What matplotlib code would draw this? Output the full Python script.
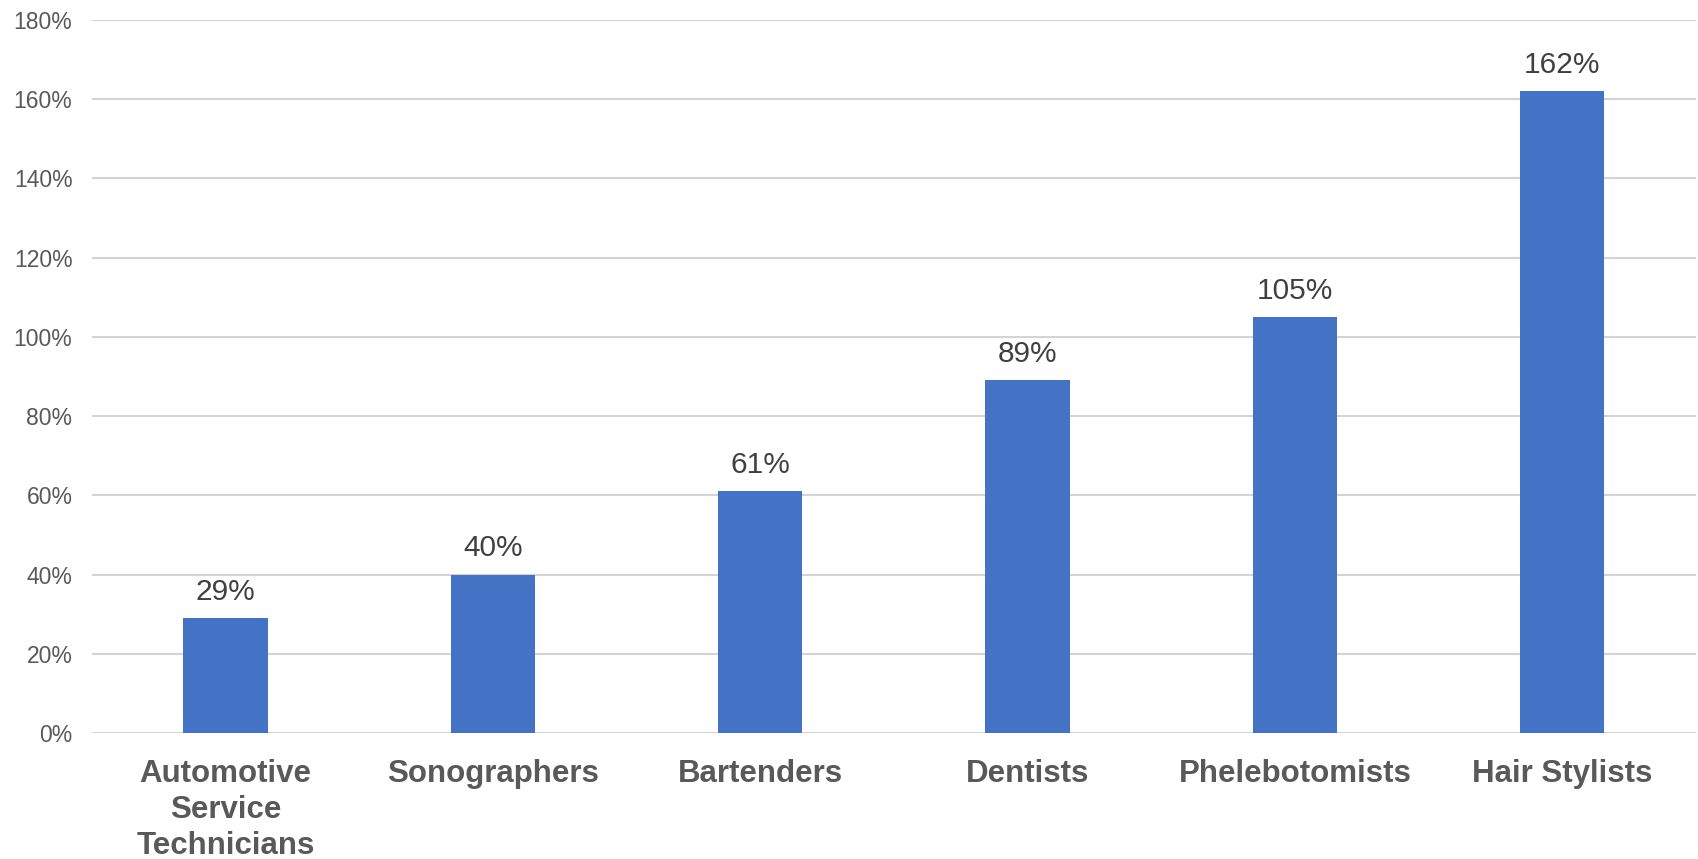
import matplotlib
matplotlib.use("Agg")
from matplotlib import pyplot as plt
from matplotlib.ticker import FuncFormatter
import numpy as np

# data
categories = ["Automotive\nService\nTechnicians", "Sonographers", "Bartenders",
              "Dentists", "Phelebotomists", "Hair Stylists"]
values = [29, 40, 61, 89, 105, 162]
yticks = [0, 20, 40, 60, 80, 100, 120, 140, 160, 180]

plt.rcParams['font.family'] = ['Liberation Sans', 'DejaVu Sans']

fig = plt.figure(figsize=(16.99, 8.59), dpi=100)
ax = fig.add_axes([0.0541, 0.1467, 0.9441, 0.83])

x = np.arange(len(categories))
bars = ax.bar(x, values, width=0.315, color='#4472C4', zorder=3)

for b, v in zip(bars, values):
    ax.annotate(f"{v}%", (b.get_x() + b.get_width() / 2, v),
                xytext=(0, 9), textcoords='offset points',
                ha='center', va='bottom', fontsize=21.5, color='#404040')

ax.set_xlim(-0.5, len(categories) - 0.5)
ax.set_ylim(0, 180)
ax.set_yticks(yticks)
ax.yaxis.set_major_formatter(FuncFormatter(lambda v, p: f"{v:.0f}%"))
ax.grid(axis='y', color='#d4d4d4', linewidth=1.5, zorder=0)

ax.set_xticks(x)
ax.set_xticklabels(categories, fontsize=22.5, fontweight='bold', color='#595959',
                   linespacing=1.26)
ax.tick_params(axis='x', length=0, pad=19)
ax.tick_params(axis='y', length=0, pad=14, labelsize=16.5, labelcolor='#595959')

for s in ax.spines.values():
    s.set_visible(False)

fig.savefig("out.png", dpi=100)
